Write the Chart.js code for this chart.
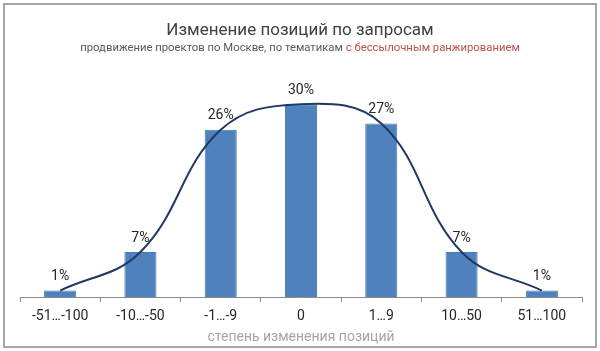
<!DOCTYPE html>
<html>
<head>
<meta charset="utf-8">
<script src="https://cdn.jsdelivr.net/npm/chart.js@4"></script>
<style>
  html, body { margin: 0; padding: 0; background: #fff; }
</style>
</head>
<body>
<canvas id="chart" width="600" height="351"></canvas>
<script>
// data
const categories = ['-51…-100', '-10…-50', '-1…-9', '0', '1…9', '10…50', '51…100'];
const shares = [1, 7, 26, 30, 27, 7, 1];
const yRange = [0, 35];

const titleText = 'Изменение позиций по запросам';
const subtitleParts = ['продвижение проектов по Москве, по тематикам ', 'с бессылочным ранжированием'];
const axisTitle = 'степень изменения позиций';

const FONT = 'Roboto, "Noto Sans", sans-serif';

// frame, title and two-colour subtitle
const frame = {
  id: 'frame',
  beforeDraw(chart) {
    const c = chart.ctx;
    c.save();
    c.fillStyle = '#fff';
    c.fillRect(0, 0, chart.width, chart.height);
    c.strokeStyle = '#a6a6a6';
    c.lineWidth = 2;
    c.strokeRect(4, 4, 592, 343);

    c.textBaseline = 'middle';
    c.textAlign = 'center';
    c.fillStyle = '#404040';
    c.font = '17px ' + FONT;
    c.fillText(titleText, 300, 31);

    c.font = '11.3px ' + FONT;
    const w1 = c.measureText(subtitleParts[0]).width;
    const w2 = c.measureText(subtitleParts[1]).width;
    let x = 300 - (w1 + w2) / 2;
    c.textAlign = 'left';
    c.fillStyle = '#595959';
    c.fillText(subtitleParts[0], x, 48);
    c.fillStyle = '#c0504d';
    c.fillText(subtitleParts[1], x + w1, 48);
    c.restore();
  }
};

// percentage labels above the bars
const barLabels = {
  id: 'barLabels',
  afterDatasetsDraw(chart) {
    const c = chart.ctx;
    const meta = chart.getDatasetMeta(0);
    c.save();
    c.font = '14px ' + FONT;
    c.fillStyle = '#262626';
    c.textAlign = 'center';
    c.textBaseline = 'middle';
    meta.data.forEach((bar, i) => {
      c.fillText(shares[i] + '%', bar.x, bar.y - 14);
    });
    c.restore();
  }
};

new Chart(document.getElementById('chart'), {
  data: {
    labels: categories,
    datasets: [{
      type: 'bar',
      data: shares,
      backgroundColor: '#4f81bd',
      borderColor: '#4a7ab3',
      borderWidth: 1,
      barPercentage: 0.8,
      categoryPercentage: 0.5,
      order: 2
    }, {
      type: 'line',
      data: shares,
      borderColor: '#1f3864',
      borderWidth: 2,
      pointRadius: 0,
      tension: 0.4,
      fill: false,
      order: 1
    }]
  },
  plugins: [frame, barLabels],
  options: {
    responsive: false,
    animation: false,
    layout: { padding: { top: 72, left: 20, right: 18, bottom: 0 } },
    plugins: {
      legend: { display: false },
      tooltip: { enabled: false },
      title: { display: false }
    },
    scales: {
      x: {
        grid: { offset: true, drawOnChartArea: false, drawTicks: true, tickLength: 5, color: '#8c8c8c' },
        border: { display: true, color: '#8c8c8c', width: 1 },
        ticks: { color: '#262626', font: { family: FONT, size: 14 }, padding: 6, maxRotation: 0 },
        title: { display: true, text: axisTitle, color: '#a6a6a6', font: { family: FONT, size: 14 }, padding: { top: 0, bottom: 5 } },
        afterFit(scale) { scale.height = 54; }
      },
      y: {
        display: false,
        min: yRange[0],
        max: yRange[1]
      }
    }
  }
});
</script>
</body>
</html>
